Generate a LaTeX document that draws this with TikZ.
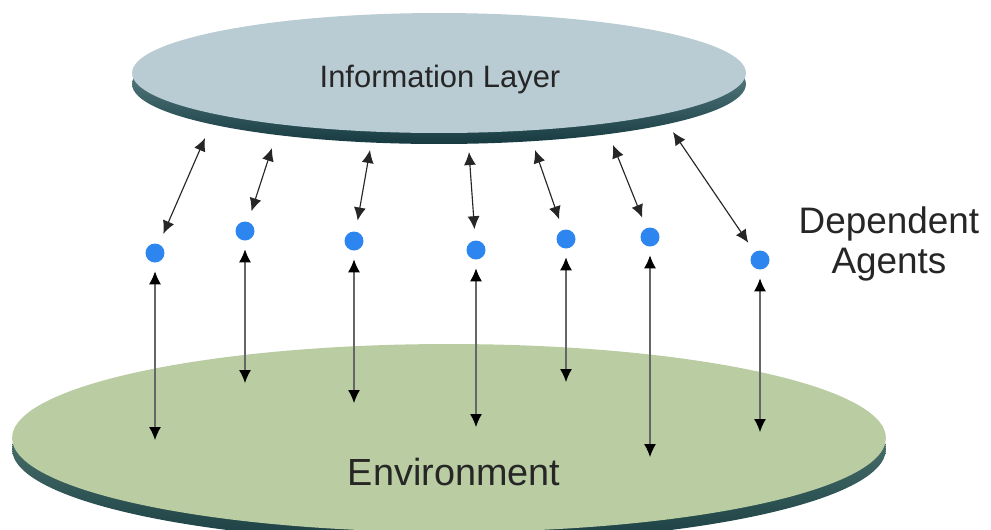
\documentclass[tikz,border=0pt]{standalone}
\usepackage{fontspec}
\setmainfont{Liberation Sans}
\usetikzlibrary{arrows.meta,shapes.geometric}
\definecolor{infoface}{RGB}{185,203,211}
\definecolor{inforimtop}{RGB}{125,165,168}
\definecolor{inforimbottom}{RGB}{22,58,64}
\definecolor{envface}{RGB}{186,204,161}
\definecolor{envrimtop}{RGB}{110,150,140}
\definecolor{envrimbottom}{RGB}{26,62,66}
\definecolor{agentblue}{RGB}{45,134,240}

\begin{document}
\begin{tikzpicture}[x=0.02cm, y=-0.02cm,
    layer/.style={ellipse, inner sep=0pt},
    agent/.style={circle, fill=agentblue, inner sep=0pt, minimum size=0.38cm},
    uplink/.style={{Latex[length=0.26cm,width=0.24cm]}-{Latex[length=0.26cm,width=0.24cm]},
        black!85, line width=0.65pt, shorten <=0.22cm},
    downlink/.style={{Latex[length=0.26cm,width=0.24cm,color=black]}-{Latex[length=0.26cm,width=0.24cm,color=black]},
        black!60, line width=0.65pt, shorten <=0.17cm}]
        \def \rimdepth {11};

        \useasboundingbox (0,0) rectangle (991,529);

        % environment: rim first, face on top
        \shade[top color=envrimtop, bottom color=envrimbottom] (449,438+\rimdepth) ellipse [x radius=8.74cm, y radius=1.88cm];
        \node[layer, fill=envface, minimum width=17.48cm, minimum height=3.76cm] (env) at (449,438) {};
        \node[anchor=base, font=\fontsize{21.5}{24}\selectfont, black!85] (envlabel) at (454,485) {Environment};

        % information layer
        \shade[top color=inforimtop, bottom color=inforimbottom] (439,73+\rimdepth) ellipse [x radius=6.14cm, y radius=1.2cm];
        \node[layer, fill=infoface, minimum width=12.28cm, minimum height=2.4cm] (info) at (439,73) {};
        \node[anchor=base, font=\fontsize{17.6}{20}\selectfont, black!85] (infolabel) at (440,87) {Information Layer};

        \node[align=center, font=\fontsize{21}{23.2}\selectfont, black!85] (deplabel) at (889,244) {Dependent\\Agents};

        % one agent per entry: agent x/y, tip under the information layer, tip in the environment
        \foreach \n/\ax/\ay/\tx/\ty/\ey in {1/155/253/205/138/440, 2/245/231/272/148/383,
                3/354/241/370/150/403, 4/476/250/469/152/427, 5/566/239/535/150/382,
                6/650/237/613/145/457, 7/760/260/673/132/432} {
            \node[agent] (a\n) at (\ax,\ay) {};
            \coordinate (t\n) at (\tx,\ty);
            \coordinate (e\n) at (\ax,\ey);
            \draw[uplink] (a\n) -- (t\n);
            \draw[downlink] (a\n) -- (e\n);
        }
    \end{tikzpicture}
\end{document}
